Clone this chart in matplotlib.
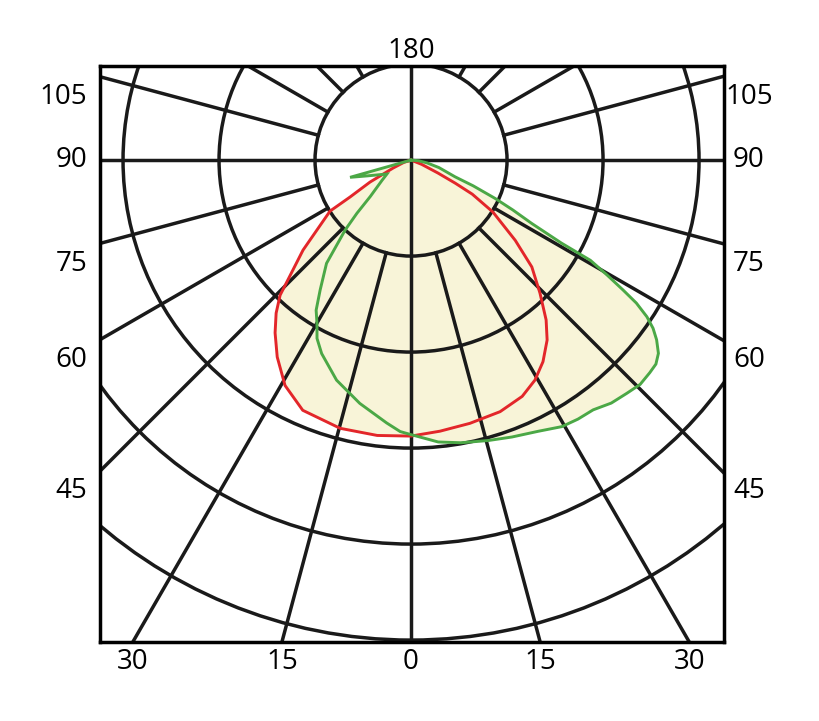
"""Polar luminous intensity diagram (C0-C180 red, C90-C270 green)."""
import matplotlib.pyplot as plt
import numpy as np
from matplotlib.patches import Circle

# gamma: degrees from nadir, positive to the right; r: intensity in grid-ring units
red_gamma = [-90, -74, -72, -66.0, -61.8, -58.8, -57.8, -50.2, -44.1, -41.4, -38.2,
             -34.2, -29.2, -23.4, -14.8, -7.0, 0, 6.1, 12.6, 19.5, 25.2, 29.4, 33.2,
             37.1, 40.2, 44.1, 48.5, 52.4, 57.6, 60.9, 62.4, 64.3, 68, 70, 90]
red_r = [0.0, 0.0, 0.08, 0.205, 0.485, 0.743, 0.997, 1.464, 1.96, 2.125, 2.29,
         2.48, 2.69, 2.84, 2.89, 2.89, 2.875, 2.84, 2.81, 2.78, 2.72, 2.63, 2.51,
         2.35, 2.18, 1.93, 1.68, 1.37, 1.01, 0.73, 0.52, 0.31, 0.12, 0.0, 0.0]

green_gamma = [-90, -78, -74.2, -70, -65, -60, -55, -48.2, -45.5, -43.3, -39.3, -35.0,
               -32.3, -30.0, -27.8, -24.8, -18.7, -11.9, -5.3, -2.3, 0, 5.5, 10, 15.4,
               20, 25.1, 29.5, 32.8, 36.1, 39.5, 42.8, 45.6, 48.3, 50.2, 52.0, 53.8,
               55.2, 56.4, 57.6, 58.5, 59.6, 60.8, 61.1, 62.3, 63.9, 65.5, 67.5, 69.2,
               75, 80, 85, 90]
green_r = [0.0, 0.0, 0.66, 0.48, 0.36, 0.29, 0.37, 0.57, 0.79, 1.0, 1.39, 1.65,
           1.85, 1.96, 2.10, 2.22, 2.42, 2.59, 2.75, 2.83, 2.86, 2.95, 2.99, 3.03,
           3.07, 3.12, 3.19, 3.21, 3.22, 3.28, 3.31, 3.34, 3.33, 3.32, 3.27, 3.17,
           3.07, 2.95, 2.78, 2.59, 2.37, 2.14, 1.79, 1.42, 1.18, 0.96, 0.7, 0.49,
           0.3, 0.17, 0.08, 0.0]

ring_radii = [1, 2, 3, 4, 5]
spoke_angles = [-150, -135, -120, -105, -75, -60, -45, -30, -15,
                15, 30, 45, 60, 75, 105, 120, 135, 150]
side_labels = [105, 90, 75, 60, 45]
bottom_labels = [-30, -15, 0, 15, 30]

FILL = "#f8f4d8"
RED = "#e3262a"
GREEN = "#4ba846"
LW = 2.5


def to_xy(gamma, r):
    g = np.radians(np.asarray(gamma, dtype=float))
    r = np.asarray(r, dtype=float)
    return r * np.sin(g), -r * np.cos(g)


fig = plt.figure(figsize=(8.2, 7.21), dpi=100)
plt.rcParams["font.family"] = ["Open Sans", "DejaVu Sans"]
ax = fig.add_axes([100 / 820, 79 / 721, 624 / 820, 576 / 721])
x_min, x_max, y_min, y_max = -3.24, 3.26, -5.02, 0.98
ax.set_xlim(x_min, x_max)
ax.set_ylim(y_min, y_max)
ax.set_xticks([])
ax.set_yticks([])
for spine in ax.spines.values():
    spine.set_linewidth(LW)
    spine.set_zorder(5)

# light fill under both curves
rx, ry = to_xy(red_gamma, red_r)
gx, gy = to_xy(green_gamma, green_r)
ax.fill(rx, ry, color=FILL, lw=0, zorder=1)
ax.fill(gx, gy, color=FILL, lw=0, zorder=1)

# grid
grid_kw = dict(color="#1a1a1a", linewidth=LW, zorder=2)
for radius in ring_radii:
    ax.add_patch(Circle((0, 0), radius, fill=False, edgecolor="#1a1a1a",
                        linewidth=LW, zorder=2))
for angle in spoke_angles:
    sx, sy = to_xy([angle, angle], [1, 10])
    ax.plot(sx, sy, **grid_kw)
ax.axhline(0, **grid_kw)
ax.axvline(0, **grid_kw)

ax.plot(rx, ry, color=RED, linewidth=2.1, zorder=3, solid_joinstyle="round")
ax.plot(gx, gy, color=GREEN, linewidth=2.1, zorder=3, solid_joinstyle="miter")

# angle labels
fs = 20
for angle in side_labels:
    y_edge = x_min / np.tan(np.radians(angle))
    y_lab = y_edge if angle == 90 else y_edge - 0.21
    ax.text(-3.37, y_lab, str(angle), ha="right", va="center", fontsize=fs, clip_on=False)
    ax.text(3.52, y_lab, str(angle), ha="center", va="center", fontsize=fs, clip_on=False)
for angle in bottom_labels:
    x_lab = -y_min * np.tan(np.radians(angle))
    ax.text(x_lab, -5.23, str(abs(angle)), ha="center", va="center", fontsize=fs, clip_on=False)
ax.text(0, 1.14, "180", ha="center", va="center", fontsize=fs, clip_on=False)

fig.savefig("out.png", dpi=100)
